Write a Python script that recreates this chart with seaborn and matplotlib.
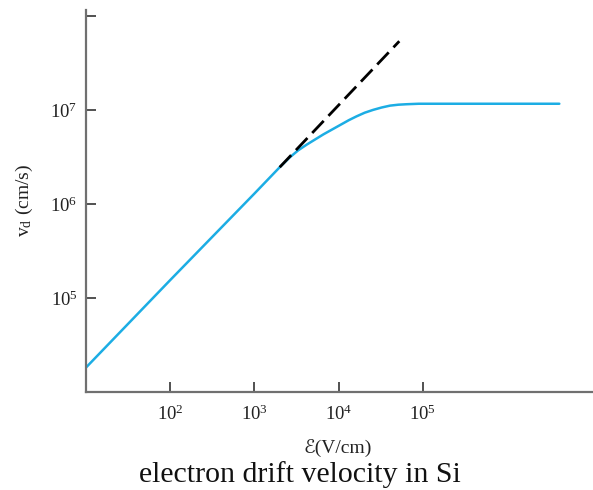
"""Electron drift velocity in Si vs electric field (log-log)."""
import matplotlib
matplotlib.use("Agg")
import matplotlib.pyplot as plt
import matplotlib.ticker as mticker
import numpy as np
import pandas as pd
import seaborn as sns

# values, as log10 (field in V/cm, velocity in cm/s)
log_field = [1.0, 2.0, 3.0, 3.30, 3.42, 3.52, 3.62, 3.72, 3.82, 3.92, 4.02, 4.12,
             4.21, 4.31, 4.41, 4.51, 4.61, 4.71, 4.81, 4.95, 5.5, 6.0, 6.62]
log_velocity = [4.26, 5.19, 6.11, 6.39, 6.495, 6.57, 6.63, 6.685, 6.74, 6.79, 6.84, 6.89,
                6.93, 6.97, 7.0, 7.025, 7.045, 7.055, 7.06, 7.065, 7.065, 7.065, 7.065]

# low-field (ohmic) extrapolation, dashed
log_ohmic_field = [3.30, 4.72]
log_ohmic_velocity = [6.39, 7.73]

x_ticks = [1e2, 1e3, 1e4, 1e5]
x_ticklabels = [r"$10^{2}$", r"$10^{3}$", r"$10^{4}$", r"$10^{5}$"]
y_ticks = [1e5, 1e6, 1e7, 1e8]
y_ticklabels = [r"$10^{5}$", r"$10^{6}$", r"$10^{7}$", ""]

sns.set_style("white")
plt.rcParams["font.family"] = ["Liberation Serif", "DejaVu Sans"]
plt.rcParams["mathtext.fontset"] = "custom"
plt.rcParams["mathtext.rm"] = "Liberation Serif"
plt.rcParams["mathtext.it"] = "Liberation Serif:italic"

df = pd.DataFrame({"field": np.power(10.0, log_field),
                   "velocity": np.power(10.0, log_velocity)})
df_ohm = pd.DataFrame({"field": np.power(10.0, log_ohmic_field),
                       "velocity": np.power(10.0, log_ohmic_velocity)})

fig = plt.figure(figsize=(5.93, 4.90), dpi=100)
ax = fig.add_axes([0.145, 0.2, 0.855, 0.78])

sns.lineplot(data=df, x="field", y="velocity", color="#1CADE4", lw=1.8, ax=ax)
sns.lineplot(data=df_ohm, x="field", y="velocity", color="black", lw=2.0,
             ax=ax, linestyle=(0, (6, 2.5)))

ax.set_xscale("log")
ax.set_yscale("log")
ax.set_xlim(1e1, 10**7.02)
ax.set_ylim(1e4, 10**8.064)

ax.xaxis.set_major_locator(mticker.FixedLocator(x_ticks))
ax.yaxis.set_major_locator(mticker.FixedLocator(y_ticks))
ax.xaxis.set_minor_locator(mticker.NullLocator())
ax.yaxis.set_minor_locator(mticker.NullLocator())
ax.set_xticklabels(x_ticklabels)
ax.set_yticklabels(y_ticklabels)

for side in ("top", "right"):
    ax.spines[side].set_visible(False)
for side in ("left", "bottom"):
    ax.spines[side].set_color("#707070")
    ax.spines[side].set_linewidth(1.6)
ax.tick_params(axis="both", bottom=True, left=True, direction="in", length=7,
               width=1.2, color="#333333", labelsize=13.5, labelcolor="#222222")
ax.tick_params(axis="x", pad=9)
ax.tick_params(axis="y", pad=6)

ax.set_xlabel("")
ax.set_ylabel("")
fig.text(0.042, 0.59, r"v$_\mathrm{d}$ (cm/s)", rotation=90, ha="center",
         va="center", fontsize=14, color="#222222")
fig.text(0.57, 0.085, "ℰ(V/cm)", ha="center", va="center", fontsize=14,
         color="#222222")
fig.text(0.506, 0.017, "electron drift velocity in Si", ha="center",
         va="baseline", fontsize=21.5, color="#111111")

fig.savefig("out.png", dpi=100)
plt.close(fig)
